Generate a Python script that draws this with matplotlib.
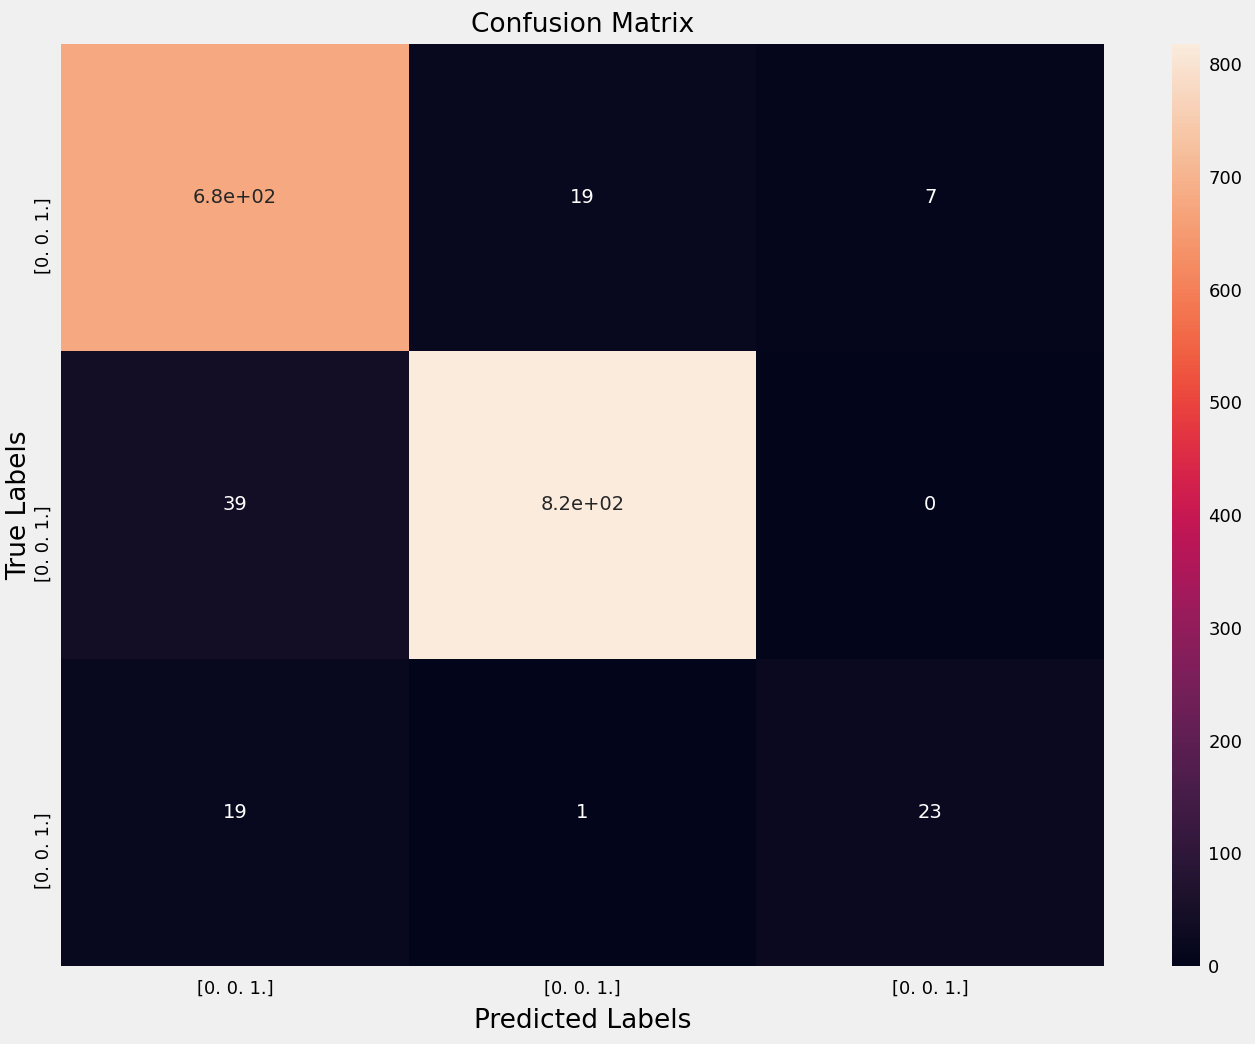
import numpy as np
import matplotlib
matplotlib.use('Agg')
import matplotlib.pyplot as plt
import seaborn as sns

# confusion matrix values
cm = np.array([[680, 19, 7],
               [39, 818, 0],
               [19, 1, 23]])
labels = ['[0. 0. 1.]', '[0. 0. 1.]', '[0. 0. 1.]']
cbar_ticks = [0, 100, 200, 300, 400, 500, 600, 700, 800]

plt.style.use('fivethirtyeight')
fig = plt.figure(figsize=(12.55, 10.44), dpi=100)
ax = fig.add_axes([61/1255, 1 - 966/1044, 1043/1255, 922/1044])
cax = fig.add_axes([1172/1255, 1 - 966/1044, 28/1255, 922/1044])

sns.heatmap(cm, annot=True, ax=ax, cbar_ax=cax, cmap='rocket',
            annot_kws={'fontsize': 14})
ax.grid(False)
cax.grid(False)

ax.set_title('Confusion Matrix', fontsize=19, pad=9)
ax.set_xlabel('Predicted Labels', fontsize=19, labelpad=7)
ax.set_ylabel('True Labels', fontsize=19, labelpad=2)
ax.set_xticklabels(labels, fontsize=13)
ax.set_yticklabels(labels, fontsize=13, rotation=90, va='top')
ax.tick_params(axis='x', length=0, pad=10)
ax.tick_params(axis='y', length=0, pad=6)

cax.set_yticks(cbar_ticks)
cax.tick_params(labelsize=13, length=0, pad=6)

fig.patch.set_facecolor('#f0f0f0')
fig.savefig('out.png', dpi=100, facecolor=fig.get_facecolor())
